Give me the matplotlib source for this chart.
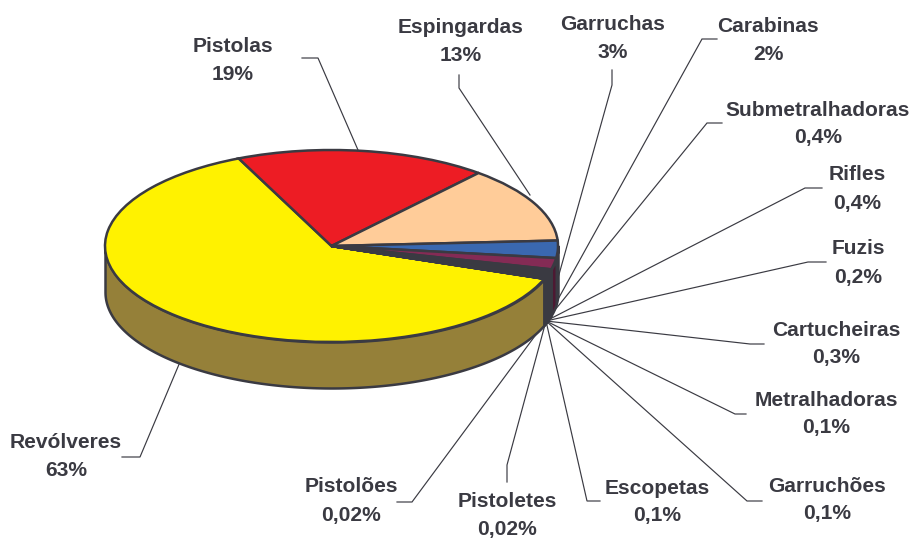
import numpy as np
import matplotlib
matplotlib.use("Agg")
import matplotlib.pyplot as plt

categories = ["Revólveres", "Pistolas", "Espingardas", "Garruchas", "Carabinas",
              "Submetralhadoras", "Rifles", "Fuzis", "Cartucheiras", "Metralhadoras",
              "Garruchões", "Escopetas", "Pistoletes", "Pistolões"]
values = [62.5, 17.9, 12.8, 2.9, 1.9, 0.4, 0.4, 0.2, 0.3, 0.1, 0.1, 0.1, 0.02, 0.02]
value_labels = ["63%", "19%", "13%", "3%", "2%", "0,4%", "0,4%", "0,2%", "0,3%",
                "0,1%", "0,1%", "0,1%", "0,02%", "0,02%"]
top_colors = ["#FFF200", "#ED1C24", "#FFCC99", "#3A68B0", "#842B55", "#2A2F6B", "#3A3A42",
              "#FFCC99", "#3A3A42", "#3A3A42", "#3A3A42", "#3A3A42", "#3A3A42", "#3A3A42"]
side_colors = ["#958039", "#8A1015", "#957755", "#223D68", "#4D1932", "#3A3A42", "#3A3A42",
               "#3A3A42", "#3A3A42", "#3A3A42", "#3A3A42", "#3A3A42", "#3A3A42", "#3A3A42"]
label_centers = [(66, 457), (233, 60), (461, 41.5), (613, 39), (768, 40), (818, 124), (857, 189),
                 (858, 263), (836, 344), (826, 414), (827, 500), (657, 502), (507, 515.5), (351, 501)]
conv = (546, 321)
leaders = [[(122, 457), (140, 457), (180, 362)],
           [(302, 58), (318, 58), (358, 150)],
           [(459, 75), (459, 88), (530, 195)],
           [(612, 70), (612, 85), conv],
           [(717, 39), (702, 39), conv],
           [(722, 123), (707, 123), conv],
           [(822, 188), (805, 188), conv],
           [(826, 262), (808, 262), conv],
           [(764, 344), (750, 344), conv],
           [(746, 414), (735, 414), conv],
           [(762, 501), (747, 501), conv],
           [(600, 501), (587, 501), conv],
           [(507, 482), (507, 465), conv],
           [(397, 502), (412, 502), conv]]

INK = "#3A3A42"
W, H = 912, 538
left, right, top, bottom = 105, 558, 150, 342
depth = 46 / 96

fig = plt.figure(figsize=(W / 100, H / 100), dpi=100, facecolor="white")

# overlay in pixel coordinates: leaders and labels, behind the pie
over = fig.add_axes([0, 0, 1, 1], zorder=1)
over.set_xlim(0, W)
over.set_ylim(H, 0)
over.axis("off")
for pts in leaders:
    xs, ys = zip(*pts)
    over.plot(xs, ys, color=INK, lw=0.85, solid_joinstyle="miter")
for name, val, (cx, cy) in zip(categories, value_labels, label_centers):
    over.text(cx, cy, f"{name}\n{val}", ha="center", va="center", family="Liberation Sans",
              fontweight="bold", fontsize=15.1, color=INK, linespacing=1.6)

# pie: an axes box equal to the ellipse bounding box
ax = fig.add_axes([left / W, (H - bottom) / H, (right - left) / W, (bottom - top) / H], zorder=2)
ax.patch.set_alpha(0)
wedges, _ = ax.pie(values, colors=top_colors, startangle=-20, counterclock=False, radius=1,
                   wedgeprops=dict(edgecolor=INK, linewidth=1.8, clip_on=False, zorder=5))
ax.set_aspect("auto")
ax.set_xlim(-1, 1)
ax.set_ylim(-1, 1)
ax.axis("off")

# extruded side wall for the parts of each wedge on the front half
for w, c in zip(wedges, side_colors):
    a, b = w.theta1 % 360, w.theta2 % 360
    if b <= a:
        b += 360
    for lo, hi in ((a, b), (a + 360, b + 360), (a - 360, b - 360)):
        s, e = max(lo, 180), min(hi, 360)
        if e > s:
            t = np.radians(np.linspace(s, e, 200))
            ax.fill_between(np.cos(t), np.sin(t) - depth, np.sin(t), facecolor=c,
                            edgecolor=INK, linewidth=1.8, clip_on=False, zorder=1)

fig.savefig("out.png", dpi=100)
